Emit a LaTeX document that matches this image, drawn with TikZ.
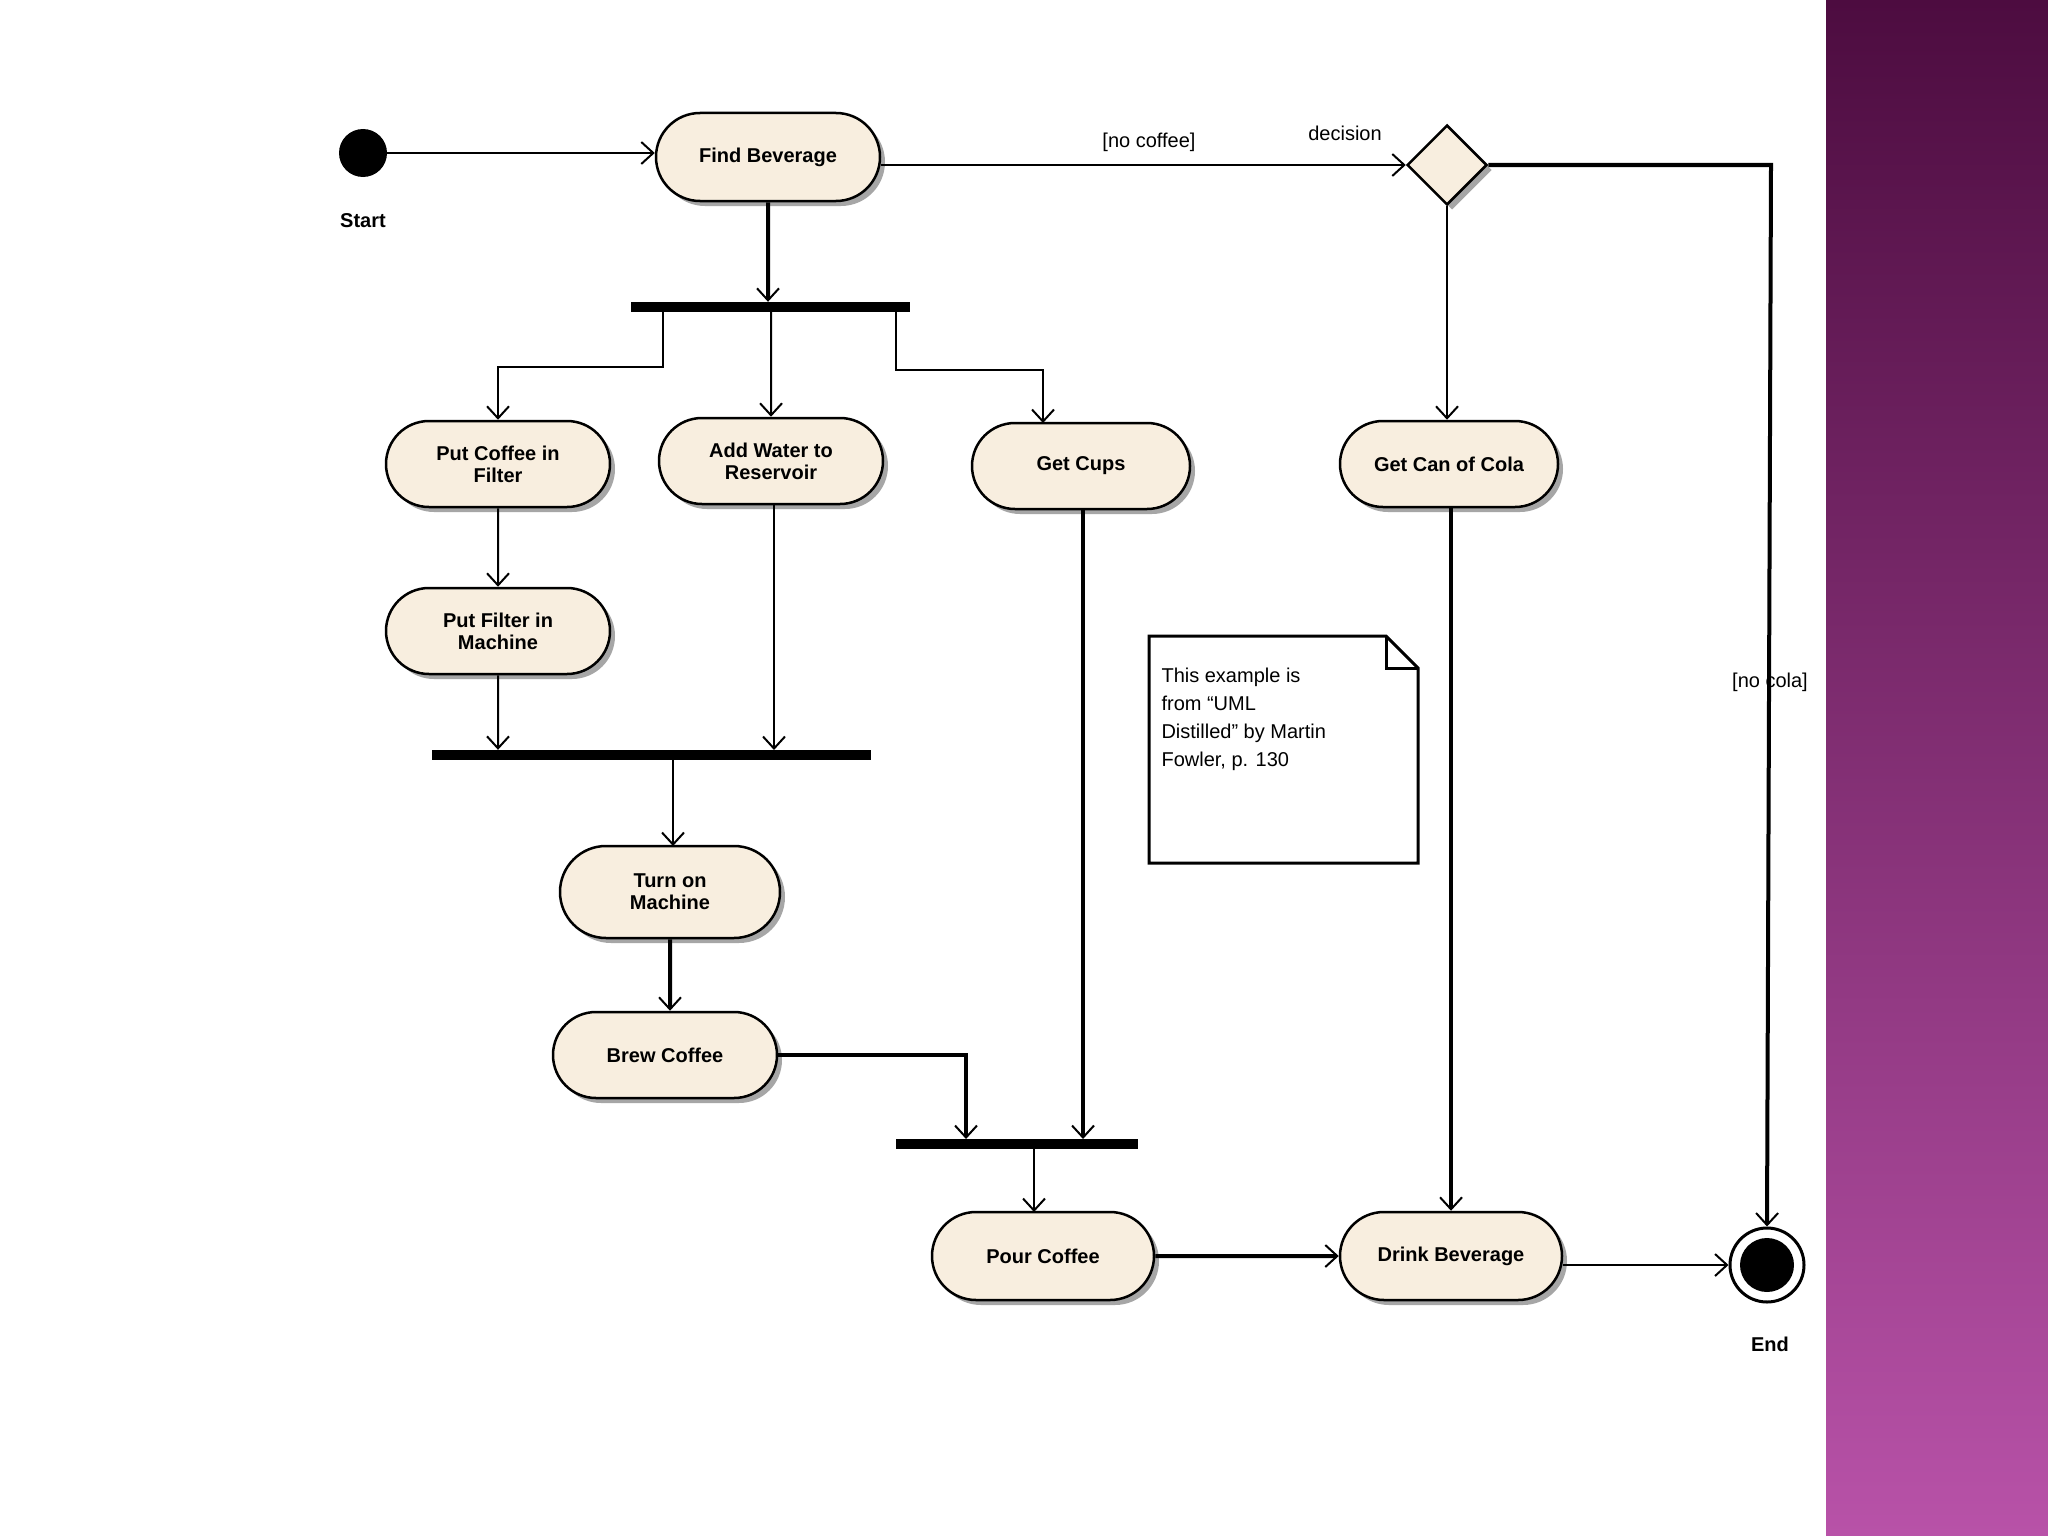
\documentclass[tikz,border=0pt]{standalone}
\usepackage{fontspec}
\setmainfont{Liberation Sans}
\usetikzlibrary{arrows.meta,shapes.misc,shapes.geometric,shadows}
\definecolor{act}{HTML}{F8EEDF}
\begin{document}
\begin{tikzpicture}[x=1pt,y=-1pt,
  act/.style={rounded rectangle,draw,line width=2.5pt,fill=act,minimum height=88pt,inner xsep=6pt,
     align=center,font=\fontsize{20}{22}\selectfont\bfseries,
     drop shadow={shadow xshift=5pt,shadow yshift=-5pt,fill=black!35,opacity=1}},
  bar/.style={fill=black,minimum height=10pt,inner sep=0pt},
  tip/.style={-{Straight Barb[length=12pt,width=22pt,line width=2pt]}},
  thn/.style={tip,line width=2pt},
  thk/.style={tip,line width=4pt},
  lbl/.style={font=\fontsize{20}{22}\selectfont}]
\useasboundingbox (0,0) rectangle (2048,1536);
\fill[white] (0,0) rectangle (2048,1536);
\shade[top color={rgb,255:red,77;green,12;blue,64},bottom color={rgb,255:red,184;green,82;blue,168}] (1826,0) rectangle (2048,1536);

\node[circle,fill=black,minimum size=48pt,inner sep=0pt] (start) at (363,153) {};
\node[lbl,font=\fontsize{20}{22}\selectfont\bfseries] (startl) at (363,221) {Start};
\node[act,minimum width=236pt] (find) at (768,157) {Find Beverage};
\node[diamond,draw,line width=2.5pt,fill=act,minimum size=80pt,inner sep=0pt,
  drop shadow={shadow xshift=5pt,shadow yshift=-5pt,fill=black!35,opacity=1}] (dec) at (1447,165) {};
\node[lbl] (decl) at (1345,133) {decision};
\node[lbl] (nocof) at (1149,142) {[no coffee]};

\node[bar,minimum width=279pt] (b1) at (770,307) {};
\node[act,minimum width=236pt,minimum height=86pt] (pcf) at (498,464) {Put Coffee in\\Filter};
\node[act,minimum width=236pt,minimum height=86pt] (aw) at (771,461) {Add Water to\\Reservoir};
\node[act,minimum width=230pt,minimum height=86pt] (cups) at (1081,466) {Get Cups};
\node[act,minimum width=230pt,minimum height=86pt] (cola) at (1449,464) {Get Can of Cola};
\node[act,minimum width=236pt,minimum height=86pt] (pfm) at (498,631) {Put Filter in\\Machine};
\node[bar,minimum width=439pt] (b2) at (651.5,755) {};
\node[act,minimum width=232pt,minimum height=92pt] (turn) at (670,892) {Turn on\\Machine};
\node[act,minimum width=236pt,minimum height=86pt] (brew) at (665,1055) {Brew Coffee};
\node[bar,minimum width=242pt] (b3) at (1017,1144) {};
\node[act,minimum width=234pt] (pour) at (1043,1256) {Pour Coffee};
\node[act,minimum width=234pt] (drink) at (1451,1256) {Drink Beverage};
\node[circle,draw,line width=3pt,fill=white,minimum size=74pt,inner sep=0pt] (end) at (1767,1265) {};
\node[circle,fill=black,minimum size=54pt,inner sep=0pt] (endin) at (end.center) {};
\node[lbl,font=\fontsize{20}{22}\selectfont\bfseries] (endl) at (1770,1344) {End};
\node[lbl] (nocola) at (1770,682) {[no cola]};

\draw[line width=3pt,fill=white] (1149,636) -- (1386,636) -- (1418,668) -- (1418,863) -- (1149,863) -- cycle;
\draw[line width=3pt] (1386,636) -- (1386,668) -- (1418,668);
\node[lbl,align=left,anchor=north west,font=\fontsize{20}{28}\selectfont] (note) at (1158,664)
  {This example is\\from ``UML\\Distilled'' by Martin\\Fowler, p. 130};

\draw[thn] (start) -- (start-|find.west);
\draw[thn] (dec.west-|find.east) -- (dec.west);
\draw[thk] (find) -- (find|-b1.north);
\draw[thn] (663,312) -- (663,367) -- (498,367) -- (pcf.north);
\draw[thn] (aw|-b1.south) -- (aw);
\draw[thn] (896,312) -- (896,370) -- (1043,370) -- (1043,423);
\draw[thn] (dec.south) -- (dec.south|-cola.north);
\draw[thk] (dec.east) -- (1771,165) -- (end.north);
\draw[thn] (pcf) -- (pfm);
\draw[thn] (pfm) -- (pfm|-b2.north);
\draw[thn] (774,504) -- (774,750);
\draw[thn] (673,760) -- (673,846);
\draw[thk] (turn) -- (turn|-brew.north);
\draw[thk] (brew.east) -- (966,1055) -- (966,1139);
\draw[thk] (1083,509) -- (1083,1139);
\draw[thn] (1034,1149) -- (1034,1212);
\draw[thk] (1451,507) -- (drink.north);
\draw[thk] (pour) -- (drink);
\draw[thn] (end.west-|drink.east) -- (end.west);
\end{tikzpicture}
\end{document}
